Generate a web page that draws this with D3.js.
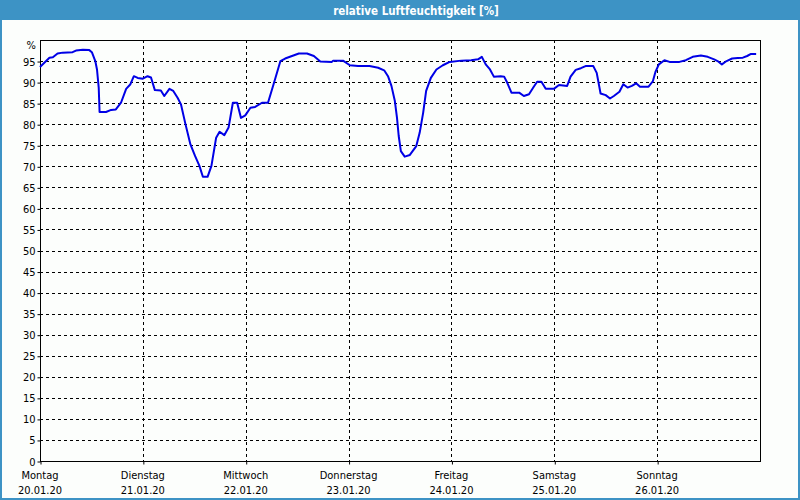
<!DOCTYPE html>
<html><head><meta charset="utf-8">
<script src="https://cdn.jsdelivr.net/npm/d3@7/dist/d3.min.js"></script>
<style>body{margin:0;background:#fff}svg{display:block}text{font-family:"DejaVu Sans Condensed","DejaVu Sans",sans-serif}</style>
</head><body><svg id="c" width="800" height="500"></svg>
<script>
const title = "relative Luftfeuchtigkeit [%]";
const dayNames = ["Montag","Dienstag","Mittwoch","Donnerstag","Freitag","Samstag","Sonntag"];
const dayDates = ["20.01.20","21.01.20","22.01.20","23.01.20","24.01.20","25.01.20","26.01.20"];
const yTicks = [0,5,10,15,20,25,30,35,40,45,50,55,60,65,70,75,80,85,90,95];
// hours since Monday 20.01.20 00:00
const hours = [0,2.2,3.0,4.1,5.3,7.6,8.4,10.0,11.5,12.1,12.9,13.3,13.7,13.9,15.4,16.6,17.7,18.9,20.1,21.1,21.9,22.8,24.0,25.1,25.9,26.8,28.2,29.0,30.2,31.1,32.1,32.9,33.9,35.1,36.2,37.2,38.0,39.1,40.0,41.1,41.9,43.0,44.0,45.0,46.0,46.9,47.9,49.1,50.2,51.8,53.2,54.5,56.1,57.2,58.8,60.4,62.3,63.9,65.4,68.1,68.4,70.7,72.3,74.2,76.9,78.9,80.3,81.2,82.0,82.8,83.3,83.7,84.2,85.1,86.3,87.8,88.6,89.4,90.1,91.2,92.5,94.0,95.6,98.3,100.6,102.2,103.1,104.0,105.0,105.9,107.5,108.3,109.0,110.0,111.8,112.9,114.1,115.1,116.0,117.0,118.0,119.9,121.1,123.0,123.8,125.0,126.2,127.3,129.1,129.9,130.8,132.0,133.0,133.9,135.2,136.1,137.1,138.1,139.1,140.0,142.0,143.0,143.6,144.4,145.7,146.9,149.2,150.7,152.3,154.2,155.8,157.3,158.1,159.1,160.2,161.5,162.8,164.0,165.0,165.9,167.1];
const humidity = [93.6,95.8,95.9,96.8,97.0,97.1,97.5,97.7,97.6,97.1,95.0,93.0,88.7,82.9,82.9,83.4,83.5,85.1,88.4,89.5,91.4,91.0,90.8,91.4,91.1,88.1,88.0,86.7,88.4,87.9,86.3,84.7,80.2,75.2,72.4,70.1,67.5,67.5,70.1,76.8,78.2,77.4,79.2,85.1,85.1,81.5,82.1,83.9,84.1,85.1,85.1,89.5,95.0,95.6,96.2,96.8,96.8,96.2,94.9,94.8,95.1,95.1,94.0,93.8,93.8,93.4,92.8,91.4,89.1,85.5,81.5,77.2,73.6,72.3,72.7,74.8,78.0,82.7,87.9,91.0,93.0,94.0,94.8,95.1,95.2,95.4,96.0,94.2,93.0,91.3,91.4,91.3,89.9,87.5,87.5,86.7,87.1,88.7,90.1,90.1,88.4,88.4,89.3,89.1,91.3,92.9,93.3,93.8,93.8,92.2,87.3,86.9,86.1,86.7,87.7,89.5,88.7,89.1,89.7,88.9,88.9,90.2,92.4,94.2,95.2,94.8,94.8,95.2,96.0,96.3,96.0,95.4,95.0,94.2,95.0,95.6,95.7,95.8,96.2,96.7,96.7];

const svg = d3.select("#c");
const blue = "#3d93c5";
svg.append("rect").attr("x",0).attr("y",0).attr("width",800).attr("height",500).attr("fill",blue);
svg.append("rect").attr("x",2).attr("y",20).attr("width",796).attr("height",478).attr("fill","#fcfefc");
svg.append("text").attr("x",416).attr("y",14.5).attr("text-anchor","middle")
  .attr("fill","#fff").attr("font-weight","bold").attr("font-size","11.5px").text(title);

const L=40,R=760,T=40,B=461;
const x = d3.scaleLinear().domain([0,168]).range([L,R]);
const y = d3.scaleLinear().domain([0,100]).range([B,T]);
const dayHours = dayNames.map((d,i)=>i*24);

const g = svg.append("g").attr("shape-rendering","crispEdges");
// horizontal grid
g.selectAll(".hg").data(yTicks.filter(v=>v>0)).join("line")
  .attr("x1",L).attr("x2",R).attr("y1",d=>Math.round(y(d))+0.5).attr("y2",d=>Math.round(y(d))+0.5)
  .attr("stroke","#000").attr("stroke-dasharray","3,3");
// vertical grid
g.selectAll(".vg").data(dayHours.slice(1)).join("line")
  .attr("x1",d=>Math.round(x(d))+0.5).attr("x2",d=>Math.round(x(d))+0.5).attr("y1",T).attr("y2",B)
  .attr("stroke","#000").attr("stroke-dasharray","3,3");

// y axis
const ya = d3.axisLeft(y).tickValues(yTicks).tickSize(3).tickPadding(2).tickFormat(d3.format("d"));
const yg = svg.append("g").attr("transform",`translate(${L+0.5},0.5)`).call(ya);
yg.select(".domain").remove();
yg.selectAll("text").attr("font-size","11px").attr("fill","#000").attr("font-family",'"DejaVu Sans Condensed","DejaVu Sans",sans-serif');
svg.append("text").attr("x",36).attr("y",49).attr("text-anchor","end").attr("font-size","11px").text("%");

// x axis
const xa = d3.axisBottom(x).tickValues(dayHours).tickSize(3).tickFormat("");
const xg = svg.append("g").attr("transform",`translate(0.5,${B+0.5})`).call(xa);
xg.select(".domain").remove();
const lab = svg.append("g");
lab.selectAll(".dn").data(dayHours).join("text").attr("x",d=>x(d)).attr("y",479)
  .attr("text-anchor","middle").attr("font-size","11px").text((d,i)=>dayNames[i]);
lab.selectAll(".dd").data(dayHours).join("text").attr("x",d=>x(d)).attr("y",494)
  .attr("text-anchor","middle").attr("font-size","11px").text((d,i)=>dayDates[i]);

// frame
svg.append("rect").attr("x",L+0.5).attr("y",T+0.5).attr("width",R-L).attr("height",B-T)
  .attr("fill","none").attr("stroke","#000").attr("shape-rendering","crispEdges");

// line
const data = hours.map((h,i)=>[h,humidity[i]]);
svg.append("path").datum(data).attr("fill","none").attr("stroke","#0000e6").attr("stroke-width",2)
  .attr("stroke-linejoin","round")
  .attr("d",d3.line().x(d=>x(d[0])).y(d=>y(d[1])));
</script></body></html>
